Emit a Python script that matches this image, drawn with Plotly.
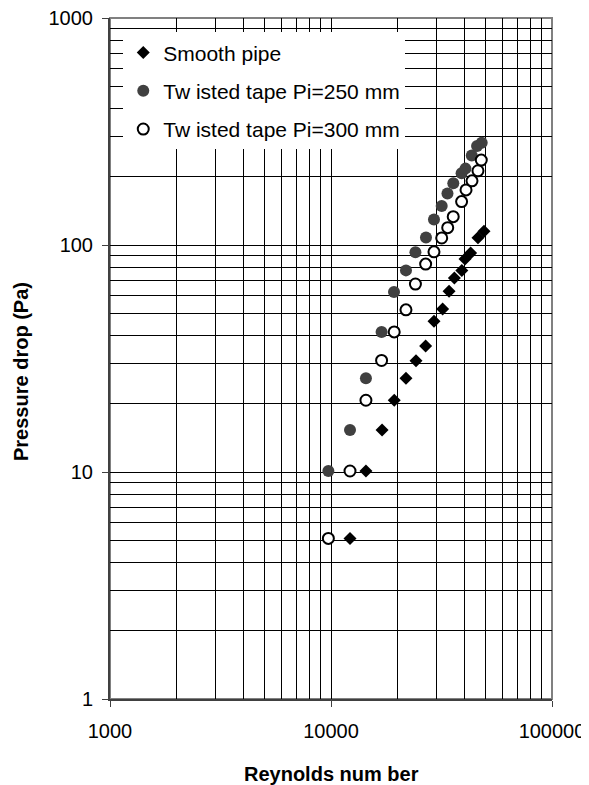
import plotly.graph_objects as go

# Smooth pipe
re_smooth = [12190, 14390, 17020, 19330, 21840, 24250, 26810, 29240, 31990,
             34220, 36170, 39070, 40390, 42830, 46240, 49230]
dp_smooth = [5.1, 10.1, 15.3, 20.7, 25.9, 30.9, 35.9, 46.2, 52.2,
             62.5, 71.6, 77.3, 86.7, 92.1, 107.5, 115]

# Twisted tape Pi=250 mm
re_tt250 = [9730, 12190, 14390, 16940, 19280, 21840, 24100, 26900, 29240,
            31690, 33650, 35760, 38990, 40600, 43350, 45810, 48080]
dp_tt250 = [10.1, 15.3, 25.9, 41.4, 62.1, 77.3, 93, 108, 129.5,
            148.5, 168.5, 187, 207, 217, 248, 273, 282]

# Twisted tape Pi=300 mm
re_tt300 = [9730, 12190, 14390, 16940, 19320, 21840, 24100, 26810, 29240,
            31690, 33740, 35730, 38990, 40830, 43450, 46240, 47860]
dp_tt300 = [5.1, 10.1, 20.7, 31.0, 41.4, 51.8, 67.3, 82.4, 93.3,
            107.4, 119.2, 133.3, 155.3, 174.8, 191.7, 212.3, 236.6]

names = ["Smooth pipe", "Tw isted tape Pi=250 mm", "Tw isted tape Pi=300 mm"]
x_tickvals = [1000, 10000, 100000]
x_ticktext = ["1000", "10000", "100000"]
y_tickvals = [1, 10, 100, 1000]
y_ticktext = ["1", "10", "100", "1000"]
x_title = "Reynolds num ber"
y_title = "Pressure drop (Pa)"

FONT = "Liberation Sans, Arial, sans-serif"

fig = go.Figure()
fig.add_trace(go.Scatter(
    x=re_smooth, y=dp_smooth, mode="markers", name=names[0], legendgroup="a",
    marker=dict(symbol="diamond", size=10, color="black", line=dict(width=0))))
fig.add_trace(go.Scatter(
    x=re_tt250, y=dp_tt250, mode="markers", name=names[1], legendgroup="b",
    marker=dict(symbol="circle", size=12, color="#404040", line=dict(width=0))))
fig.add_trace(go.Scatter(
    x=re_tt300, y=dp_tt300, mode="markers", name=names[2], legendgroup="c",
    marker=dict(symbol="circle", size=11, color="white", line=dict(width=2, color="black"))))

axis_common = dict(
    type="log", automargin=False, ticklabeloverflow="allow",
    showgrid=True, gridcolor="black", gridwidth=1,
    showline=True, linecolor="#404040", linewidth=2,
    ticks="outside", ticklen=6, tickcolor="#404040", tickwidth=1,
    tickfont=dict(family=FONT, size=20, color="black"),
    minor=dict(dtick="D1", showgrid=True, gridcolor="black", gridwidth=1, ticks=""),
    zeroline=False,
)

# The page body adds an 8 px margin; the figure is sized to fill the rest.
fig.update_layout(
    width=581, height=777,
    margin=dict(l=102, r=37, t=10, b=86, autoexpand=False),
    paper_bgcolor="white", plot_bgcolor="white",
    font=dict(family=FONT, color="black"),
    showlegend=True,
    legend=dict(
        x=0.03, y=0.979, xanchor="left", yanchor="top",
        bgcolor="white", borderwidth=0,
        font=dict(family=FONT, size=21, color="black"),
        tracegroupgap=8, itemwidth=30,
    ),
    xaxis=dict(axis_common, range=[3, 5], dtick=1, ticklabelstandoff=7,
               tickvals=x_tickvals, ticktext=x_ticktext),
    yaxis=dict(axis_common, range=[0, 3], dtick=1, ticklabelstandoff=5,
               tickvals=y_tickvals, ticktext=y_ticktext),
    annotations=[
        dict(text="<b>" + x_title + "</b>", xref="paper", yref="paper",
             x=0.5, y=-0.110, xanchor="center", yanchor="middle", showarrow=False,
             font=dict(family=FONT, size=20, color="black")),
        dict(text="<b>" + y_title + "</b>", xref="paper", yref="paper",
             x=-0.2014, y=0.4816, xanchor="center", yanchor="middle", showarrow=False,
             textangle=-90, font=dict(family=FONT, size=20, color="black")),
    ],
    shapes=[dict(type="rect", xref="paper", yref="paper", x0=0, x1=1, y0=0, y1=1,
                 line=dict(color="#808080", width=2), layer="below")],
)

fig.write_html("out.html")
